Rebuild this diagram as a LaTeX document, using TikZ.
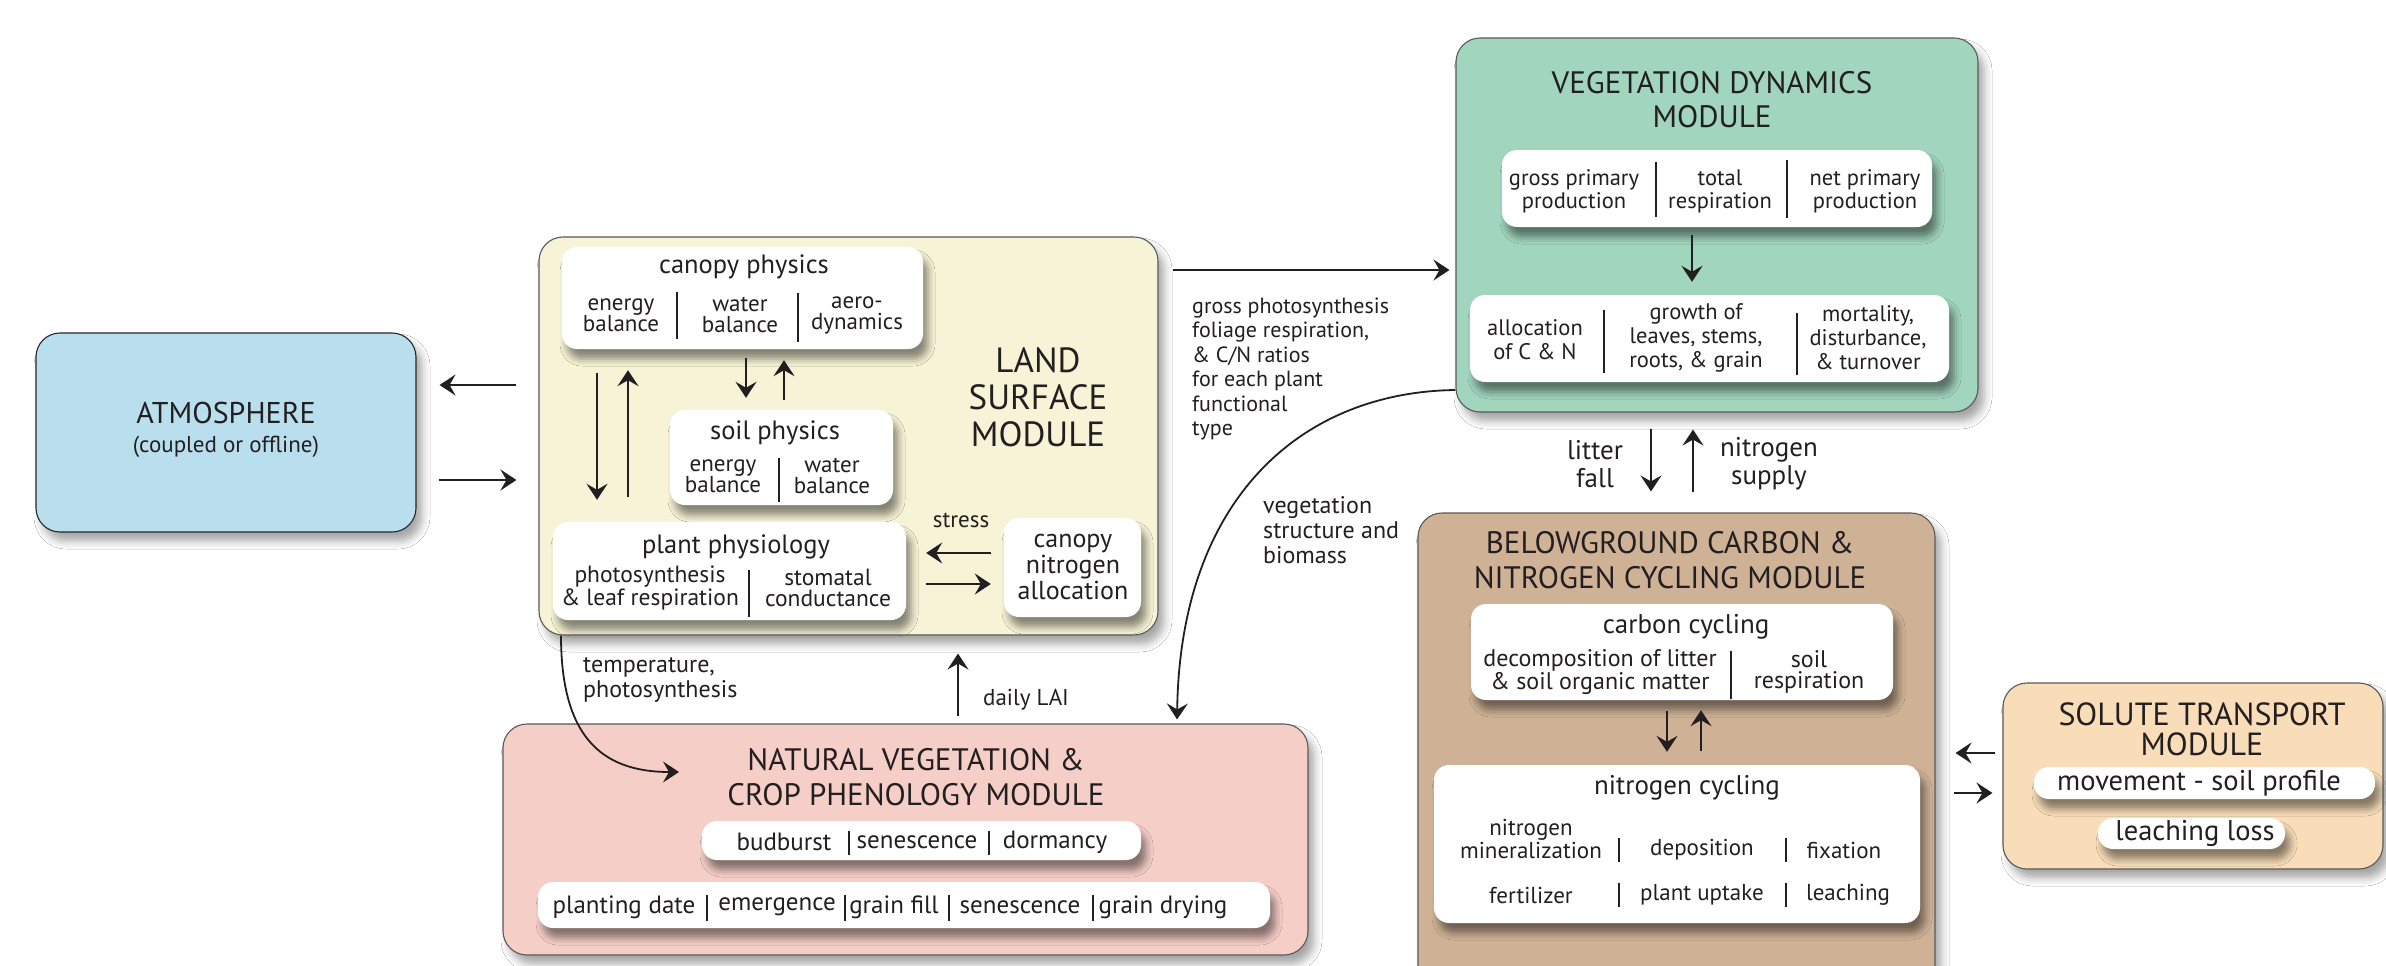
\documentclass[tikz,border=0pt]{standalone}
\usepackage{fontspec}
\setmainfont{PT Sans}
\usetikzlibrary{arrows.meta,shadows.blur}
\definecolor{txt}{HTML}{231F20}
\definecolor{atmc}{HTML}{B9DFEF}
\definecolor{landc}{HTML}{F7F3D6}
\definecolor{vegc}{HTML}{A1D5BD}
\definecolor{phenc}{HTML}{F6CEC8}
\definecolor{belc}{HTML}{CFB296}
\definecolor{solc}{HTML}{F8DDB8}
\newcommand\fs[2]{\fontsize{#1}{#2}\selectfont}
\begin{document}
\begin{tikzpicture}[x=1pt,y=-1pt,
  modbox/.style={draw=black!65, line width=1.1pt, rounded corners=24pt, inner sep=0pt,
     blur shadow={shadow xshift=6pt, shadow yshift=-9pt, shadow blur radius=8pt, shadow opacity=35}},
  wbox/.style={fill=white, rounded corners=15pt, inner sep=0pt,
     blur shadow={shadow xshift=5pt, shadow yshift=-10pt, shadow blur radius=7pt, shadow opacity=45}},
  lbl/.style={inner sep=0pt, text=txt, align=center},
  item/.style={lbl, font=\fs{23}{21}},
  sub/.style={lbl, font=\fs{26.5}{27}},
  note/.style={inner sep=0pt, text=txt, align=left, font=\fs{22}{24.4}},
  arr/.style={draw=txt, line width=1.8pt, -{Stealth[length=16pt,width=21pt,inset=6pt]}},
  sepl/.style={draw=txt, line width=1.3pt},
]
\useasboundingbox[fill=white] (0,0) rectangle (2386,966);

% ATMOSPHERE
\node[modbox, fill=atmc, draw=black!85, minimum width=380pt, minimum height=199pt] (atm) at (226,432.5) {};
\node[lbl, font=\fs{30}{30}] (atmt) at (226,413) {ATMOSPHERE};
\node[lbl, font=\fs{23}{24}] (atms) at (226,447) {(coupled or offline)};

% LAND SURFACE
\node[modbox, fill=landc, minimum width=619pt, minimum height=398pt] (land) at (848.5,436) {};
\node[lbl, font=\fs{35}{37}] (landt) at (1038,397) {LAND\\SURFACE\\MODULE};

\node[wbox, minimum width=361pt, minimum height=102pt] (can) at (742.5,298) {};
\node[sub] (cant) at (744,267) {canopy physics};
\node[item] (can1) at (621,315) {energy\\balance};
\node[item] (can2) at (740,315) {water\\balance};
\node[item] (can3) at (857,315) {aero-\\dynamics};
\draw[sepl] (677,292) -- (677,339);
\draw[sepl] (798,293) -- (798,342);

\node[wbox, minimum width=223pt, minimum height=95pt] (soil) at (781.5,457.5) {};
\node[sub] (soilt) at (775,433) {soil physics};
\node[item] (soil1) at (723,476) {energy\\balance};
\node[item] (soil2) at (832,476) {water\\balance};
\draw[sepl] (779,458) -- (779,502);

\node[wbox, minimum width=353pt, minimum height=98pt] (plant) at (729.5,571) {};
\node[sub] (plantt) at (736,547) {plant physiology};
\node[item, font=\fs{23.5}{21.5}] (plant1) at (650,588) {photosynthesis\\\& leaf respiration};
\node[item, font=\fs{23.5}{21.5}] (plant2) at (828,588) {stomatal\\conductance};
\draw[sepl] (749,570) -- (749,617);

\node[wbox, minimum width=137pt, minimum height=99pt] (cna) at (1072.5,567.5) {};
\node[lbl, font=\fs{26}{26}] (cnat) at (1073,567) {canopy\\nitrogen\\allocation};
\node[lbl, font=\fs{23}{24}] (stress) at (961,520) {stress};

% VEGETATION DYNAMICS
\node[modbox, fill=vegc, minimum width=522pt, minimum height=374pt] (veg) at (1717,225) {};
\node[lbl, font=\fs{31}{34}] (vegt) at (1712,100) {VEGETATION DYNAMICS\\MODULE};
\node[wbox, minimum width=430pt, minimum height=77pt] (gpp) at (1717,188.5) {};
\node[item, font=\fs{22.5}{23}] (gpp1) at (1574,191) {gross primary\\production};
\node[item, font=\fs{22.5}{23}] (gpp2) at (1720,191) {total\\respiration};
\node[item, font=\fs{22.5}{23}] (gpp3) at (1865,191) {net primary\\production};
\draw[sepl] (1656,162) -- (1656,217);
\draw[sepl] (1787,160) -- (1787,218);
\node[wbox, minimum width=479pt, minimum height=87pt] (alloc) at (1709.5,338.5) {};
\node[item, font=\fs{22.5}{24}] (al1) at (1535,340) {allocation\\of C \& N};
\node[item, font=\fs{22.5}{24}] (al2) at (1696,338) {growth of\\leaves, stems,\\roots, \& grain};
\node[item, font=\fs{22.5}{24}] (al3) at (1868,338) {mortality,\\disturbance,\\\& turnover};
\draw[sepl] (1604,310) -- (1604,373);
\draw[sepl] (1797,313) -- (1797,375);

% BELOWGROUND
\node[modbox, fill=belc, minimum width=517pt, minimum height=487pt] (below) at (1676.5,756.5) {};
\node[lbl, font=\fs{31}{35}] (belt) at (1670,560) {BELOWGROUND CARBON \&\\NITROGEN CYCLING MODULE};
\node[wbox, minimum width=422pt, minimum height=96pt] (carb) at (1682,652) {};
\node[sub, font=\fs{27}{27}] (carbt) at (1686,627) {carbon cycling};
\node[item, font=\fs{24}{20.5}] (carb1) at (1600,672) {decomposition of litter\\\& soil organic matter};
\node[item, font=\fs{24}{20.5}] (carb2) at (1809,672) {soil\\respiration};
\draw[sepl] (1731,651) -- (1731,699);
\node[wbox, minimum width=486pt, minimum height=158pt] (nit) at (1677,844) {};
\node[sub, font=\fs{27}{27}] (nitt) at (1687,788) {nitrogen cycling};
\node[item] (n1) at (1531,839) {nitrogen\\mineralization};
\node[item] (n2) at (1702,850) {deposition};
\node[item] (n3) at (1844,850) {fixation};
\node[item] (n4) at (1531,895) {fertilizer};
\node[item] (n5) at (1702,895) {plant uptake};
\node[item] (n6) at (1848,895) {leaching};
\draw[sepl] (1619,838) -- (1619,862);
\draw[sepl] (1786,838) -- (1786,862);
\draw[sepl] (1619,883) -- (1619,907);
\draw[sepl] (1786,883) -- (1786,907);

% SOLUTE
\node[modbox, fill=solc, minimum width=380pt, minimum height=186pt] (sol) at (2193,776) {};
\node[lbl, font=\fs{32}{30}] (solt) at (2202,729) {SOLUTE TRANSPORT\\MODULE};
\node[wbox, minimum width=341pt, minimum height=32pt] (move) at (2204.5,783) {};
\node[item, font=\fs{28.5}{28}] (movet) at (2199,783) {movement - soil profile};
\node[wbox, minimum width=187pt, minimum height=31pt] (leach) at (2191.5,833.5) {};
\node[item, font=\fs{28.5}{28}] (leacht) at (2195,833) {leaching loss};

% PHENOLOGY
\node[modbox, fill=phenc, minimum width=805pt, minimum height=231pt] (phen) at (905.5,839.5) {};
\node[lbl, font=\fs{31}{35}] (phent) at (916,777) {NATURAL VEGETATION \&\\CROP PHENOLOGY MODULE};
\node[wbox, minimum width=439pt, minimum height=39pt] (bud) at (921.5,840.5) {};
\node[item, font=\fs{25}{25}] (b1) at (784,842) {budburst};
\node[item, font=\fs{25}{25}] (b2) at (917,842) {senescence};
\node[item, font=\fs{25}{25}] (b3) at (1055,842) {dormancy};
\draw[sepl] (849,831) -- (849,855);
\draw[sepl] (989,831) -- (989,855);
\node[wbox, minimum width=732pt, minimum height=46pt] (pdate) at (904,905) {};
\node[item, font=\fs{25}{25}] (p1) at (624,907) {planting date};
\node[item, font=\fs{25}{25}] (p2) at (777,907) {emergence};
\node[item, font=\fs{25}{25}] (p3) at (894,907) {grain fill};
\node[item, font=\fs{25}{25}] (p4) at (1020,907) {senescence};
\node[item, font=\fs{25}{25}] (p5) at (1163,907) {grain drying};
\draw[sepl] (707,895) -- (707,921);
\draw[sepl] (845,895) -- (845,921);
\draw[sepl] (949,895) -- (949,921);
\draw[sepl] (1093,895) -- (1093,921);

% free labels
\node[note, anchor=west] (gplab) at (1192,369) {gross photosynthesis\\foliage respiration,\\\& C/N ratios\\for each plant\\functional\\type};
\node[note, anchor=west, font=\fs{24}{25}] (vslab) at (1263,530) {vegetation\\structure and\\biomass};
\node[lbl, font=\fs{27}{28}] (litter) at (1595,464) {litter\\fall};
\node[lbl, font=\fs{27}{28}] (nsup) at (1769,464) {nitrogen\\supply};
\node[note, anchor=west, font=\fs{24}{25}] (templab) at (583,680) {temperature,\\photosynthesis};
\node[note, anchor=west, font=\fs{23}{25}] (lailab) at (983,700) {daily LAI};

% connectors
\draw[arr, shorten <=22pt, shorten >=23pt] (land.west |- 0,385) -- (atm.east |- 0,385);
\draw[arr, shorten <=22pt, shorten >=22pt] (atm.east |- 0,480) -- (land.west |- 0,480);
\draw[arr, shorten <=9pt, shorten >=12pt] (can.south -| 746,0) -- (soil.north -| 746,0);
\draw[arr, shorten <=10pt, shorten >=11pt] (soil.north -| 784,0) -- (can.south -| 784,0);
\draw[arr, shorten <=24pt, shorten >=22pt] (can.south -| 597,0) -- (plant.north -| 597,0);
\draw[arr, shorten <=25pt, shorten >=21pt] (plant.north -| 628,0) -- (can.south -| 628,0);
\draw[arr, shorten <=13pt, shorten >=20pt] (cna.west |- 0,553) -- (plant.east |- 0,553);
\draw[arr, shorten <=20pt, shorten >=13pt] (plant.east |- 0,584) -- (cna.west |- 0,584);
\draw[arr, shorten <=14pt, shorten >=6pt] (land.east |- 0,270) -- (veg.west |- 0,270);
\draw[arr, shorten <=8pt, shorten >=13pt] (gpp.south -| 1692,0) -- (alloc.north -| 1692,0);
\draw[arr, shorten <=16pt, shorten >=21pt] (veg.south -| 1651,0) -- (below.north -| 1651,0);
\draw[arr, shorten <=20pt, shorten >=17pt] (below.north -| 1693,0) -- (veg.south -| 1693,0);
\draw[arr, shorten <=11pt, shorten >=13pt] (carb.south -| 1667,0) -- (nit.north -| 1667,0);
\draw[arr, shorten <=14pt, shorten >=10pt] (nit.north -| 1701,0) -- (carb.south -| 1701,0);
\draw[arr, shorten <=7pt, shorten >=20pt] (sol.west |- 0,753) -- (below.east |- 0,753);
\draw[arr, shorten <=18pt, shorten >=10pt] (below.east |- 0,793) -- (sol.west |- 0,793);
\draw[arr, shorten <=7pt, shorten >=18pt] (phen.north -| 958,0) -- (land.south -| 958,0);
\coordinate (tempend) at (679,772);
\draw[arr] (land.south -| 561,0) .. controls (561,735) and (600,772) .. (tempend);
\draw[arr, shorten >=4pt] (veg.west |- 0,390) .. controls (1300,392) and (1180,500) .. (phen.north -| 1177,0);
\end{tikzpicture}
\end{document}
